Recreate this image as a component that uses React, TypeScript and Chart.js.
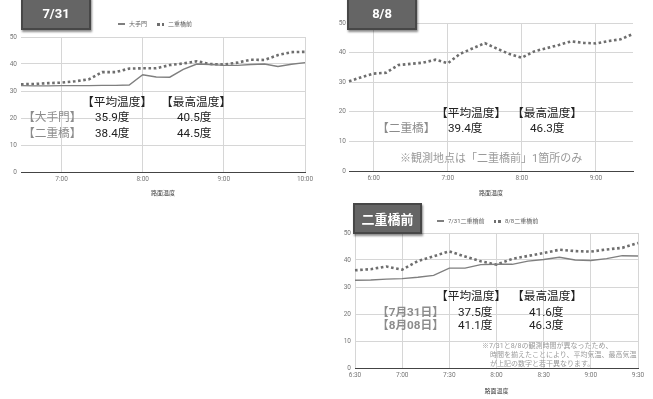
import React, { useEffect, useRef } from "react";
import { Chart, registerables } from "chart.js";
Chart.register(...registerables);

// ---- data ----
const times731 = ["6:30","6:40","6:50","7:00","7:10","7:20","7:30","7:40","7:50","8:00","8:10","8:20","8:30","8:40","8:50","9:00","9:10","9:20","9:30","9:40","9:50","10:00"];
const ootemon731 = [32.0,31.9,31.9,32.0,32.0,32.0,32.1,32.1,32.2,36.0,35.2,35.1,38.0,40.0,39.8,39.5,39.5,39.8,40.0,39.1,39.9,40.5];
const nijubashi731 = [32.5,32.6,32.9,33.1,33.6,34.3,37.0,37.0,38.3,38.4,38.4,39.6,40.2,41.0,40.0,39.8,40.5,41.6,41.5,43.3,44.4,44.5];

const times808 = ["5:40","5:50","6:00","6:10","6:20","6:30","6:40","6:50","7:00","7:10","7:20","7:30","7:40","7:50","8:00","8:10","8:20","8:30","8:40","8:50","9:00","9:10","9:20","9:30"];
const nijubashi808 = [30.3,31.7,32.9,33.2,35.8,36.2,36.6,37.6,36.4,39.6,41.4,43.2,41.3,39.5,38.3,40.4,41.5,42.6,43.8,43.3,43.1,43.9,44.5,46.3];

// comparison panel: 6:30 - 9:30
const timesCompare = times808.slice(5);
const compare731 = nijubashi731.slice(0, 19);
const compare808 = nijubashi808.slice(5);

const yTicks = [0, 10, 20, 30, 40, 50];

const SOLID = "#7f7f7f";
const DOT = "#6e6e6e";
const CJK = "Roboto, 'Noto Sans CJK JP', sans-serif";
const FS = 11.7;

type DS = { label: string; data: number[]; dotted: boolean };

function Panel(props: {
  left: number; top: number; width: number; height: number;
  pad: { left: number; right: number; top: number; bottom: number };
  yw: number; xh: number; yPad: number; xPad: number; titlePad: number;
  labels: string[]; datasets: DS[]; showTick: (l: string) => boolean;
}) {
  const ref = useRef<HTMLCanvasElement>(null);
  useEffect(() => {
    const { labels, datasets, showTick } = props;
    const chart = new Chart(ref.current!, {
      type: "line",
      data: {
        labels,
        datasets: datasets.map((d) => ({
          label: d.label,
          data: d.data,
          borderColor: d.dotted ? DOT : SOLID,
          borderWidth: d.dotted ? 2.6 : 1.4,
          borderDash: d.dotted ? [2.6, 2.6] : [],
          borderCapStyle: "butt",
          pointRadius: 0,
          tension: 0,
          fill: false,
        })),
      },
      options: {
        animation: false,
        responsive: false,
        maintainAspectRatio: false,
        layout: { padding: props.pad },
        plugins: { legend: { display: false }, tooltip: { enabled: false } },
        scales: {
          x: {
            type: "category",
            offset: false,
            grid: {
              drawTicks: false,
              color: (ctx: any) => (ctx.tick && ctx.tick.label ? "#d6d6d6" : "rgba(0,0,0,0)"),
            },
            border: { display: true, color: "#444", width: 1 },
            ticks: {
              autoSkip: false,
              maxRotation: 0,
              padding: props.xPad,
              color: "#777",
              font: { family: "Roboto", size: 6.5 },
              callback: (_v: any, i: number) => (showTick(labels[i]) ? labels[i] : ""),
            },
            title: {
              display: true,
              text: "路面温度",
              color: "#444",
              font: { family: CJK, size: 6 },
              padding: { top: 0, bottom: props.titlePad },
            },
            afterFit: (s: any) => { s.height = props.xh; },
          },
          y: {
            min: yTicks[0],
            max: yTicks[yTicks.length - 1],
            ticks: { stepSize: 10, padding: props.yPad, color: "#777", font: { family: "Roboto", size: 6.5 } },
            grid: { drawTicks: false, color: "#d6d6d6" },
            border: { display: false },
            afterFit: (s: any) => { s.width = props.yw; },
          },
        },
      } as any,
    });
    return () => chart.destroy();
  }, []);
  return (
    <canvas
      ref={ref}
      width={props.width}
      height={props.height}
      style={{ position: "absolute", left: props.left, top: props.top, width: props.width, height: props.height }}
    />
  );
}

function T(p: { x: number; y: number; s: number; c?: string; w?: any; children: any }) {
  return (
    <div
      style={{
        position: "absolute", left: p.x, top: p.y - p.s * 0.6, fontSize: p.s, lineHeight: `${p.s * 1.2}px`,
        color: p.c || "#222", fontWeight: p.w || "normal", fontFamily: CJK, whiteSpace: "nowrap",
      }}
    >
      {p.children}
    </div>
  );
}

function Box(p: { x: number; y: number; w: number; h: number; text: string; s: number }) {
  return (
    <div
      style={{
        position: "absolute", left: p.x, top: p.y, width: p.w, height: p.h, boxSizing: "border-box",
        background: "#656565", border: "2px solid #474747", boxShadow: "1px 2px 2px rgba(0,0,0,0.45)",
        color: "#fff", fontFamily: CJK, fontWeight: "bold", fontSize: p.s,
        display: "flex", alignItems: "center", justifyContent: "center",
      }}
    >
      {p.text}
    </div>
  );
}

function Legend(p: { x: number; y: number; items: { text: string; dotted: boolean; x: number }[] }) {
  return (
    <>
      {p.items.map((it, i) => (
        <React.Fragment key={i}>
          {it.dotted ? (
            <div style={{ position: "absolute", left: it.x, top: p.y - 1, width: 7, height: 2.5,
              background: `linear-gradient(90deg, ${DOT} 0 2.5px, transparent 2.5px 4.5px, ${DOT} 4.5px 7px)` }} />
          ) : (
            <div style={{ position: "absolute", left: it.x, top: p.y - 1, width: 7, height: 2, background: SOLID }} />
          )}
          <div style={{ position: "absolute", left: it.x + 11, top: p.y - 4, fontSize: 6, lineHeight: "8px",
            color: "#666", fontFamily: CJK, whiteSpace: "nowrap" }}>{it.text}</div>
        </React.Fragment>
      ))}
    </>
  );
}

const hourOnly = (l: string) => l.endsWith(":00");
const halfHour = (l: string) => l.endsWith(":00") || l.endsWith(":30");

export default function App() {
  return (
    <div style={{ position: "fixed", left: 0, top: 0, width: 653, height: 399, background: "#fff", overflow: "hidden" }}>
      {/* 7/31 */}
      <Panel left={0} top={0} width={330} height={200}
        pad={{ left: 0, right: 25, top: 37, bottom: 0 }} yw={21} xh={28} yPad={4} xPad={3} titlePad={3}
        labels={times731}
        datasets={[{ label: "大手門", data: ootemon731, dotted: false }, { label: "二重橋前", data: nijubashi731, dotted: true }]}
        showTick={hourOnly} />
      {/* 8/8 */}
      <Panel left={330} top={0} width={323} height={200}
        pad={{ left: 0, right: 20, top: 23, bottom: 0 }} yw={19} xh={29} yPad={3} xPad={3} titlePad={3}
        labels={times808}
        datasets={[{ label: "二重橋前", data: nijubashi808, dotted: true }]}
        showTick={hourOnly} />
      {/* compare */}
      <Panel left={330} top={200} width={323} height={199}
        pad={{ left: 0, right: 15, top: 33, bottom: 0 }} yw={25} xh={31} yPad={4} xPad={3} titlePad={4}
        labels={timesCompare}
        datasets={[{ label: "7/31二重橋前", data: compare731, dotted: false }, { label: "8/8二重橋前", data: compare808, dotted: true }]}
        showTick={halfHour} />

      <Legend y={24} items={[{ text: "大手門", dotted: false, x: 118 }, { text: "二重橋前", dotted: true, x: 157 }]} />
      <Legend y={221} items={[{ text: "7/31二重橋前", dotted: false, x: 437 }, { text: "8/8二重橋前", dotted: true, x: 494 }]} />

      <Box x={21} y={-3} w={70} h={33} text="7/31" s={13} />
      <Box x={347} y={-3} w={70} h={33} text="8/8" s={13} />
      <Box x={353} y={203} w={69} h={31} text="二重橋前" s={13} />

      {/* 7/31 overlay */}
      <T x={82} y={102} s={FS}>【平均温度】</T>
      <T x={161} y={102} s={FS}>【最高温度】</T>
      <T x={23} y={117.5} s={FS} c="#8c8c8c">【大手門】</T>
      <T x={95} y={117.5} s={FS}>35.9度</T>
      <T x={177} y={117.5} s={FS}>40.5度</T>
      <T x={23} y={133} s={FS} c="#8c8c8c">【二重橋】</T>
      <T x={95} y={133} s={FS}>38.4度</T>
      <T x={177} y={133} s={FS}>44.5度</T>

      {/* 8/8 overlay */}
      <T x={436} y={113} s={FS}>【平均温度】</T>
      <T x={512} y={113} s={FS}>【最高温度】</T>
      <T x={377} y={128} s={FS} c="#8c8c8c">【二重橋】</T>
      <T x={448} y={128} s={FS}>39.4度</T>
      <T x={530} y={128} s={FS}>46.3度</T>
      <T x={400} y={159} s={11} c="#9a9a9a">※観測地点は「二重橋前」1箇所のみ</T>

      {/* compare overlay */}
      <T x={436} y={296} s={FS}>【平均温度】</T>
      <T x={512} y={296} s={FS}>【最高温度】</T>
      <T x={377} y={312.5} s={FS} c="#8c8c8c" w="bold">【7月31日】</T>
      <T x={458} y={312.5} s={FS}>37.5度</T>
      <T x={529} y={312.5} s={FS}>41.6度</T>
      <T x={377} y={325} s={FS} c="#8c8c8c" w="bold">【8月08日】</T>
      <T x={458} y={325} s={FS}>41.1度</T>
      <T x={529} y={325} s={FS}>46.3度</T>
      <T x={482} y={346} s={7} c="#9a9a9a">※7/31と8/8の観測時間が異なったため、</T>
      <T x={490} y={355.5} s={7} c="#9a9a9a">時間を揃えたことにより、平均気温、最高気温</T>
      <T x={490} y={364.5} s={7} c="#9a9a9a">が上記の数字と若干異なります。</T>
    </div>
  );
}
